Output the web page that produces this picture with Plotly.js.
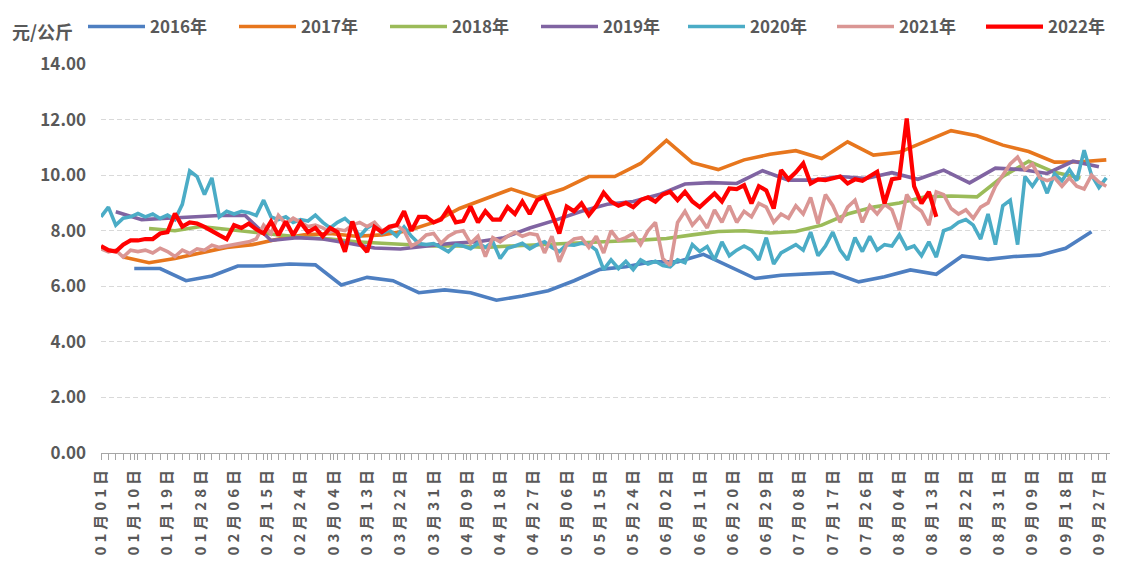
<!DOCTYPE html>
<html>
<head>
<meta charset="utf-8">
<script src="https://cdn.plot.ly/plotly-3.0.1.min.js"></script>
<style>
html, body { margin: 0; padding: 0; background: #ffffff; }
#chart { width: 1126px; height: 570px; }
.xaxislayer-above .xtick text { letter-spacing: 4px; }
</style>
</head>
<body>
<div id="chart"></div>
<script>
// ---- categories (one per day, Jan 01 - Sep 30 of a leap-year calendar) ----
const monthLengths = [31, 29, 31, 30, 31, 30, 31, 31, 30];
const categories = [];
monthLengths.forEach((n, m) => {
  for (let d = 1; d <= n; d++) {
    categories.push(String(m + 1).padStart(2, '0') + '月' + String(d).padStart(2, '0') + '日');
  }
});
const tickLabels = categories.filter((_, i) => i % 9 === 0);
const everyOtherDay = categories.filter((_, i) => i % 2 === 0);

// ---- weekly series ----
const dates2016 = ['01月10日','01月17日','01月24日','01月31日','02月07日','02月14日','02月21日','02月28日','03月06日','03月13日','03月20日','03月27日','04月03日','04月10日','04月17日','04月24日','05月01日','05月08日','05月15日','05月22日','05月29日','06月05日','06月12日','06月26日','07月03日','07月10日','07月17日','07月24日','07月31日','08月07日','08月14日','08月21日','08月28日','09月04日','09月11日','09月18日','09月25日'];
const values2016 = [6.64,6.64,6.20,6.37,6.73,6.73,6.80,6.77,6.05,6.32,6.20,5.77,5.87,5.77,5.50,5.65,5.84,6.20,6.61,6.70,6.88,6.88,7.15,6.28,6.40,6.44,6.49,6.16,6.34,6.59,6.43,7.09,6.97,7.07,7.12,7.37,7.96];

const dates2017 = ['01月07日','01月14日','01月21日','01月28日','02月04日','02月11日','02月18日','02月25日','03月03日','03月10日','03月17日','03月24日','03月31日','04月07日','04月14日','04月21日','04月28日','05月05日','05月12日','05月19日','05月26日','06月02日','06月09日','06月16日','06月23日','06月30日','07月07日','07月14日','07月21日','07月28日','08月04日','08月11日','08月18日','08月25日','09月01日','09月08日','09月15日','09月22日','09月29日'];
const values2017 = [7.05,6.85,7.00,7.20,7.40,7.50,7.70,7.85,7.90,7.80,7.85,8.00,8.30,8.80,9.15,9.50,9.20,9.50,9.95,9.95,10.42,11.25,10.45,10.20,10.55,10.75,10.88,10.60,11.20,10.72,10.82,11.20,11.60,11.42,11.08,10.85,10.47,10.48,10.55];

const dates2018 = ['01月14日','01月21日','01月28日','02月04日','02月11日','02月18日','02月25日','03月03日','03月10日','03月17日','03月24日','03月31日','04月07日','04月14日','04月21日','04月28日','05月05日','05月12日','05月19日','05月26日','06月02日','06月09日','06月16日','06月23日','06月30日','07月07日','07月14日','07月21日','07月28日','08月04日','08月11日','08月18日','08月25日','09月01日','09月08日','09月15日','09月22日'];
const values2018 = [8.08,8.00,8.15,8.05,7.95,7.85,7.75,7.70,7.60,7.55,7.50,7.45,7.45,7.40,7.45,7.50,7.55,7.60,7.62,7.66,7.72,7.85,7.97,8.00,7.92,7.97,8.20,8.60,8.85,9.00,9.22,9.25,9.22,9.95,10.50,10.10,9.90];

const dates2019 = ['01月05日','01月12日','01月19日','01月26日','02月02日','02月09日','02月16日','02月23日','03月01日','03月08日','03月15日','03月22日','03月29日','04月05日','04月12日','04月19日','04月26日','05月03日','05月10日','05月17日','05月24日','05月31日','06月07日','06月14日','06月21日','06月28日','07月05日','07月12日','07月19日','07月26日','08月02日','08月09日','08月16日','08月23日','08月30日','09月06日','09月13日','09月20日','09月27日'];
const values2019 = [8.68,8.40,8.45,8.50,8.55,8.55,7.65,7.75,7.70,7.55,7.38,7.34,7.45,7.55,7.60,7.75,8.10,8.38,8.70,8.95,9.05,9.30,9.68,9.73,9.70,10.16,9.82,9.82,9.95,9.88,10.09,9.85,10.18,9.72,10.25,10.20,10.06,10.50,10.30];

// ---- every-other-day series (start 01月01日) ----
const values2020 = [
 8.50,8.85,8.20,8.45,8.50,8.62,8.50,8.60,8.44,8.56,
 8.40,8.95,10.15,9.95,9.30,9.90,8.50,8.70,8.60,8.70,
 8.65,8.55,9.10,8.50,8.40,8.50,8.30,8.40,8.35,8.56,
 8.30,8.10,8.30,8.44,8.20,7.80,8.10,8.26,7.90,8.02,
 7.80,8.14,7.80,7.54,7.50,7.54,7.40,7.24,7.50,7.45,
 7.35,7.55,7.40,7.60,7.00,7.37,7.45,7.55,7.35,7.50,
 7.60,7.40,7.25,7.50,7.48,7.55,7.50,7.30,6.60,6.95,
 6.64,6.90,6.60,6.95,6.80,6.90,6.75,6.70,6.95,6.85,
 7.50,7.25,7.43,6.95,7.60,7.10,7.30,7.45,7.30,6.95,
 7.75,6.80,7.20,7.35,7.50,7.30,7.95,7.10,7.45,7.95,
 7.30,6.95,7.75,7.25,7.80,7.30,7.50,7.45,7.85,7.35,
 7.45,7.10,7.60,7.05,8.00,8.10,8.30,8.40,8.20,7.70,
 8.60,7.50,8.90,9.10,7.50,9.95,9.60,10.00,9.35,10.05,
 9.80,10.20,9.80,10.90,10.00,9.55,9.90];

const values2021 = [
 7.35,7.24,7.30,7.05,7.30,7.25,7.30,7.20,7.37,7.25,
 7.07,7.30,7.18,7.35,7.30,7.48,7.40,7.45,7.50,7.55,
 7.60,7.70,8.20,7.90,8.55,8.25,8.45,8.30,8.15,8.20,
 8.10,7.95,8.05,8.00,8.20,8.30,8.15,8.30,8.00,8.10,
 8.20,8.00,7.45,7.60,7.85,7.90,7.55,7.80,7.95,8.00,
 7.55,7.80,7.07,7.75,7.60,7.80,7.95,7.80,7.90,7.85,
 7.20,7.80,6.88,7.50,7.70,7.75,7.40,7.80,7.20,8.00,
 7.65,7.75,7.90,7.50,8.00,8.30,7.00,6.75,8.30,8.70,
 8.20,8.50,8.10,8.75,8.30,8.90,8.30,8.70,8.50,8.98,
 8.85,8.30,8.60,8.45,8.90,8.60,9.20,8.26,9.30,8.90,
 8.30,8.85,9.10,8.30,8.90,8.60,8.95,8.75,8.02,9.30,
 8.90,8.70,8.20,9.40,9.30,8.80,8.60,8.75,8.45,8.85,
 9.00,9.60,10.00,10.40,10.65,10.20,10.40,9.90,9.80,9.90,
 9.60,9.90,9.60,9.50,10.00,9.75,9.60];

const values2022 = [
 7.45,7.30,7.25,7.50,7.65,7.65,7.70,7.70,7.90,7.95,
 8.62,8.15,8.30,8.26,8.14,7.97,7.84,7.70,8.20,8.10,
 8.26,8.05,7.90,8.33,7.84,8.33,7.84,8.30,7.95,8.10,
 7.80,8.10,7.95,7.24,8.33,7.55,7.24,8.14,7.95,8.14,
 8.20,8.70,8.00,8.50,8.50,8.30,8.40,8.80,8.30,8.35,
 8.87,8.30,8.70,8.40,8.40,8.85,8.60,9.05,8.60,9.10,
 9.22,8.60,7.90,8.87,8.70,8.98,8.56,8.90,9.37,9.05,
 8.90,9.00,8.85,9.10,9.20,9.05,9.30,9.40,9.10,9.40,
 9.05,8.85,9.10,9.34,9.05,9.52,9.50,9.64,8.98,9.60,
 9.45,8.80,10.18,9.85,10.10,10.42,9.70,9.85,9.82,9.90,
 9.95,9.70,9.85,9.80,9.95,10.12,8.98,9.85,9.90,12.04,
 9.60,8.98,9.40,8.50];

const seriesNames = ['2016年','2017年','2018年','2019年','2020年','2021年','2022年'];
const seriesColors = ['#4E7FC1','#E7761D','#9BBB59','#8064A2','#4BACC6','#DA9694','#FF0000'];

const xs = [dates2016, dates2017, dates2018, dates2019,
  everyOtherDay.slice(0, values2020.length),
  everyOtherDay.slice(0, values2021.length),
  everyOtherDay.slice(0, values2022.length)];
const ys = [values2016, values2017, values2018, values2019, values2020, values2021, values2022];

const traces = seriesNames.map((name, i) => ({
  type: 'scatter',
  mode: 'lines',
  name: name,
  x: xs[i],
  y: ys[i],
  connectgaps: true,
  legend: i < 4 ? 'legend' : 'legend2',
  line: { color: seriesColors[i], width: i === 6 ? 4.2 : 3.6 },
  hoverinfo: 'skip'
}));

const tickVals = [], tickText = [];
categories.forEach((c, i) => {
  if (i % 2 === 0 || i % 9 === 0) {
    tickVals.push(c);
    tickText.push(i % 9 === 0 ? c : '');
  }
});

const txtColor = '#595959';
const fontFamily = '"Noto Sans CJK SC", "Noto Sans", sans-serif';

function legendBox(xPx, entryW) {
  return {
    orientation: 'h',
    xref: 'container', yref: 'container',
    x: xPx / 1126, y: 1 - 27 / 570,
    xanchor: 'left', yanchor: 'middle',
    font: { size: 17, color: txtColor, weight: 'bold', family: fontFamily },
    entrywidth: entryW, entrywidthmode: 'pixels',
    itemwidth: 57,
    traceorder: 'normal',
    bgcolor: 'rgba(0,0,0,0)',
    borderwidth: 0
  };
}

const layout = {
  width: 1126,
  height: 570,
  margin: { l: 101, r: 16, t: 64, b: 117, pad: 0 },
  paper_bgcolor: '#ffffff',
  plot_bgcolor: '#ffffff',
  font: { family: fontFamily, color: txtColor },
  hovermode: false,
  showlegend: true,
  legend: legendBox(83, 79),
  legend2: legendBox(683, 77),
  xaxis: {
    type: 'category',
    categoryorder: 'array',
    categoryarray: categories,
    range: [0, categories.length - 1],
    tickmode: 'array',
    tickvals: tickVals,
    ticktext: tickText,
    tickangle: -90,
    ticks: 'outside',
    ticklen: 6,
    tickwidth: 1,
    tickcolor: '#A6A6A6',
    showline: true,
    linecolor: '#A6A6A6',
    linewidth: 1,
    showgrid: false,
    zeroline: false,
    automargin: false,
    tickfont: { size: 15, color: txtColor, weight: 'bold', family: fontFamily },
    fixedrange: true
  },
  yaxis: {
    range: [0, 14],
    tick0: 0,
    dtick: 2,
    tickformat: '.2f',
    showgrid: true,
    gridcolor: '#D9D9D9',
    gridwidth: 1,
    griddash: '5px,3px',
    zeroline: false,
    showline: false,
    ticks: '',
    ticklabelstandoff: 14,
    automargin: false,
    tickfont: { size: 17, color: txtColor, weight: 'bold', family: fontFamily },
    fixedrange: true
  },
  annotations: [{
    text: '元/公斤',
    xref: 'paper', yref: 'paper',
    x: (10 - 101) / 1009, y: 1 + (64 - 31) / 389,
    xanchor: 'left', yanchor: 'middle',
    showarrow: false,
    font: { size: 18, color: txtColor, weight: 'bold', family: fontFamily }
  }]
};

Plotly.newPlot('chart', traces, layout, { staticPlot: true, displayModeBar: false });
</script>
</body>
</html>
